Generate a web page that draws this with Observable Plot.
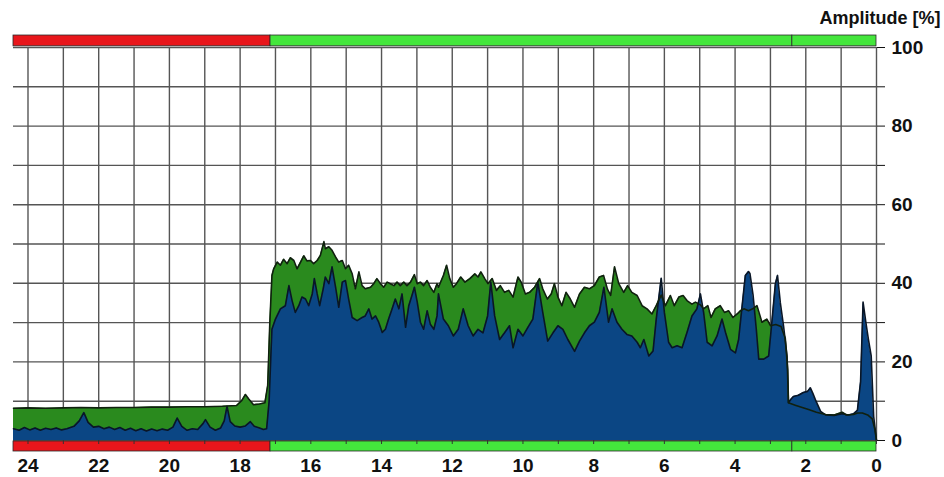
<!DOCTYPE html>
<html><head><meta charset="utf-8">
<script src="https://cdn.jsdelivr.net/npm/d3@7"></script>
<script src="https://cdn.jsdelivr.net/npm/@observablehq/plot@0.6"></script>
<style>html,body{margin:0;padding:0;background:#fff} svg{display:block}</style>
</head><body><div id="chart"></div>
<script>
// Hours before now (x axis runs 24 -> 0) and amplitude in %
const greenHours = [24.41,24.0,23.5,23.0,22.5,22.0,21.5,21.0,20.5,20.0,19.5,19.0,18.5,18.1,17.95,17.85,17.75,17.62,17.45,17.30,17.22,17.16,17.10,
 17.05,16.95,16.86,16.77,16.67,16.58,16.48,16.39,16.29,16.20,16.11,16.01,15.92,15.82,15.73,15.63,15.59,15.49,15.40,15.30,15.21,15.11,15.02,14.93,14.83,14.74,14.64,14.55,14.46,14.31,14.22,14.13,14.03,13.94,13.84,13.75,13.65,13.56,13.47,13.37,13.28,13.18,13.07,12.99,12.90,12.81,12.71,12.62,12.52,12.43,
 12.39,12.25,12.16,12.07,11.97,11.88,11.76,11.64,11.50,11.36,11.27,11.19,11.08,10.99,10.87,10.75,10.64,10.52,10.40,10.28,10.14,10.05,9.93,9.81,9.67,9.53,9.44,9.31,9.20,9.11,9.01,8.90,8.78,8.66,8.54,8.40,8.26,8.12,7.98,7.84,7.72,7.61,
 7.52,7.41,7.29,7.15,7.04,6.92,6.77,6.63,6.49,6.35,6.23,6.09,5.97,5.83,5.72,5.59,5.47,5.36,5.22,5.12,4.98,4.89,4.77,4.68,4.56,4.42,4.30,4.18,4.06,3.94,3.85,3.75,3.62,3.50,3.38,3.24,3.10,3.00,2.85,2.70,2.58,2.51,
 2.49,2.30,2.10,1.90,1.70,1.44,1.20,0.97,0.85,0.65,0.54,0.40,0.25,0.12,0.05,0];
const greenValues = [8.2,8.3,8.2,8.3,8.4,8.3,8.4,8.4,8.5,8.5,8.6,8.6,8.7,8.9,10.2,11.7,10.5,9.1,9.3,9.6,14,30,42,
 43.7,45.4,44.6,46.1,45.0,46.5,45.8,43.7,45.4,47.0,45.7,45.8,45.0,45.8,47.1,50.6,48.8,49.3,48.4,46.7,45.4,45.8,43.7,44.6,42.4,38.6,42.9,39.4,38.6,39.0,39.9,41.2,39.9,39.0,40.3,39.9,39.4,40.3,39.4,40.3,39.4,40.3,42.2,39.9,40.3,39.4,40.7,39.0,37.7,39.9,
 39.0,42.0,44.6,41.2,39.0,39.9,41.6,40.3,41.2,42.4,41.6,42.9,41.2,39.9,41.2,38.2,39.4,37.7,38.2,36.5,41.6,40.3,37.3,37.7,39.0,41.2,38.6,36.0,37.3,39.9,36.5,34.3,37.7,36.0,33.9,37.3,39.0,38.6,39.4,41.6,42.0,38.5,
 36.9,44.2,39.9,37.7,39.4,37.7,36.9,34.3,33.5,32.2,34.3,37.0,34.3,36.9,34.3,36.5,36.9,35.6,34.7,35.2,34.5,33.5,34.3,31.3,33.5,34.3,32.6,33.0,31.3,32.2,33.0,33.5,33.0,33.5,34.3,30.1,30.9,29.2,29.5,29.0,26,18,
 9.6,9.0,8.4,7.8,7.2,6.6,6.5,7.2,6.5,6.6,7.0,7.0,6.5,5.5,3,0];

const blueHours = [24.41,24.25,24.1,23.95,23.8,23.65,23.5,23.35,23.2,23.05,22.9,22.7,22.55,22.42,22.3,22.15,22.0,21.85,21.7,21.55,21.4,21.25,21.1,20.95,20.8,20.65,20.5,20.35,20.2,20.05,19.9,19.78,19.65,19.5,19.35,19.2,19.05,18.98,18.85,18.7,18.55,18.45,18.37,18.28,18.15,18.0,17.85,17.71,17.6,17.45,17.34,17.25,17.18,17.12,
 17.10,17.00,16.86,16.72,16.62,16.53,16.44,16.34,16.25,16.15,16.06,15.96,15.90,15.82,15.75,15.65,15.59,15.49,15.40,15.30,15.21,15.11,15.02,14.93,14.83,14.69,14.55,14.46,14.36,14.27,14.17,14.08,13.98,13.89,13.80,13.70,13.61,13.51,13.42,13.32,13.23,13.14,13.07,12.99,12.90,12.81,12.71,12.62,12.52,12.43,
 12.39,12.25,12.11,11.97,11.83,11.69,11.55,11.41,11.27,11.13,11.00,10.91,10.80,10.66,10.52,10.38,10.28,10.14,10.00,9.86,9.72,9.58,9.44,9.30,9.15,9.01,8.87,8.73,8.54,8.40,8.26,8.12,7.98,7.84,7.71,
 7.58,7.48,7.34,7.20,7.06,6.92,6.77,6.68,6.58,6.44,6.32,6.23,6.09,6.00,5.88,5.78,5.64,5.50,5.36,5.22,5.08,4.98,4.89,4.79,4.65,4.51,4.37,4.27,4.13,3.99,3.90,3.80,3.71,3.62,3.58,3.49,3.40,3.33,3.19,3.05,2.96,2.86,2.80,2.72,2.63,2.53,
 2.49,2.42,2.35,2.21,2.07,1.95,1.87,1.80,1.73,1.58,1.44,1.20,0.97,0.80,0.65,0.54,0.45,0.38,0.30,0.23,0.15,0.08,0];
const blueValues = [3.0,2.6,3.3,2.7,3.2,2.6,3.1,2.8,3.2,2.7,3.0,3.6,5.0,7.1,4.6,3.4,3.6,3.0,3.4,2.8,3.3,2.6,3.1,2.5,3.0,2.4,2.9,2.5,2.9,2.6,3.4,5.7,3.6,2.6,3.0,2.8,4.3,5.3,3.4,2.6,3.2,5.0,8.7,4.8,3.7,3.4,3.7,4.8,3.6,3.2,2.8,3.0,10,24,
 28.3,30.9,33.5,34.3,39.4,35.6,32.6,34.3,36.5,36.0,34.3,37.3,41.2,37.3,34.3,38.6,41.6,39.9,44.2,39.0,33.9,40.3,40.7,36.0,31.3,30.5,31.3,31.7,33.5,30.9,31.7,30.1,27.5,28.3,30.9,33.5,36.0,33.5,37.3,28.8,34.3,36.9,39.0,35.2,30.1,28.3,33.0,29.6,28.3,31.7,
 37.3,30.9,29.2,26.6,28.3,33.5,29.2,26.6,28.3,27.4,31.7,40.3,31.7,25.7,27.4,29.2,23.6,28.3,26.6,28.8,30.9,40.3,32.6,25.3,27.4,29.2,28.3,25.7,22.7,25.3,27.4,29.2,30.1,32.6,39.0,
 30.1,33.5,30.1,28.3,27.0,26.6,25.0,23.6,25.7,21.5,22.8,30.9,41.3,32.6,25.0,23.6,24.1,23.6,27.5,31.7,33.5,37.3,32.6,25.0,24.1,26.6,30.9,27.5,23.2,22.3,25.7,34.3,42.0,43.0,42.5,36.9,28.3,20.7,20.7,21.5,30.1,39.9,42.0,35,29.2,21.5,
 9.6,10.5,11.2,11.5,12.2,12.5,13.4,12,10.4,7.4,6.5,6.4,6.8,6.5,6.8,7.7,15,35.2,30,25.8,21.5,6.1,0];

// State bars (top and bottom): start hour, end hour, state colour
const stateFrom = [24.41, 17.14, 2.38];
const stateTo = [17.14, 2.38, 0];
const stateColor = ["#e8161b", "#44e63c", "#44e63c"];

const hourTicks = d3.range(0, 25);
const ampTicks = d3.range(0, 101, 10);

const green = greenHours.map((h, i) => ({h, v: greenValues[i]}));
const blue = blueHours.map((h, i) => ({h, v: blueValues[i]}));
const segs = stateFrom.map((f, i) => ({x1: f, x2: stateTo[i], c: stateColor[i]}));

const chart = Plot.plot({
  width: 944, height: 477,
  marginLeft: 13, marginRight: 68, marginTop: 47, marginBottom: 37,
  style: {fontFamily: "'Liberation Sans', Arial, sans-serif", fontWeight: "bold", fontSize: "19px", color: "#111", background: "#fff"},
  x: {domain: [24.41, 0], label: null},
  y: {domain: [0, 100], label: null},
  color: {type: "identity"},
  marks: [
    Plot.gridX(hourTicks, {stroke: "#555", strokeOpacity: 1, strokeWidth: 1.4}),
    Plot.gridY(ampTicks, {stroke: "#555", strokeOpacity: 1, strokeWidth: 1.4}),
    Plot.areaY(green, {x: "h", y: "v", fill: "#2a8a1e"}),
    Plot.areaY(blue, {x: "h", y: "v", fill: "#0b4684"}),
    Plot.lineY(blue, {x: "h", y: "v", stroke: "#0a1626", strokeWidth: 1.6}),
    Plot.lineY(green, {x: "h", y: "v", stroke: "#10200f", strokeWidth: 1.6}),
    Plot.rect(segs, {x1: "x1", x2: "x2", y1: 100.3, y2: 103.05, fill: "c", stroke: "#2a2a2a", strokeWidth: 0.8}),
    Plot.rect(segs, {x1: "x1", x2: "x2", y1: -0.25, y2: -2.8, fill: "c", stroke: "#2a2a2a", strokeWidth: 0.8}),
    Plot.axisX(hourTicks, {tickSize: 4, tickPadding: 14, stroke: "#333", tickFormat: d => d % 2 === 0 ? d : ""}),
    Plot.axisY(ampTicks, {anchor: "right", tickSize: 8, tickPadding: 7, tickFormat: d => d % 20 === 0 ? d : ""}),
    Plot.text(["Amplitude [%]"], {text: d => d, frameAnchor: "top-right", textAnchor: "end", lineAnchor: "middle", dx: 64, dy: -29, fontSize: 18, fontWeight: "bold", fill: "#111"})
  ]
});
document.getElementById("chart").append(chart);
</script>
</body></html>
